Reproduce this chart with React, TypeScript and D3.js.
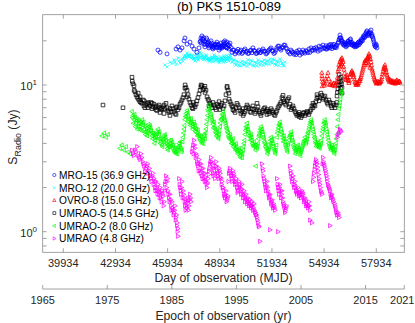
import { useRef, useEffect } from "react";
import * as d3 from "d3";

// MRO-15 (36.9 GHz) [MJD, Jy]
const mro15 = [
  [45380,17.3],[45500,16.7],[45900,16.3],[46420,17.6],[46530,18.2],[46650,17.3],[46760,17.9],[46880,20.0],[46930,20.9],[47050,19.0],
  [47220,19.6],[47340,18.4],[47450,17.6],[47620,16.7],[47740,17.9],[47800,19.6],[47850,20.9],[47910,21.6],[47970,20.3],[48030,19.0],
  [48080,18.2],[48140,19.6],[48200,20.3],[48260,18.7],[48310,17.9],[48370,19.0],[48430,20.0],[48490,18.4],[48540,17.6],[48600,18.7],
  [48660,19.0],[48720,18.2],[48770,19.6],[48830,18.7],[48890,17.3],[48950,18.4],[49000,19.3],[49060,17.9],[49120,18.7],[49180,19.0],
  [49230,20.0],[49290,18.2],[49350,19.6],[49400,18.7],[49460,17.6],[49520,19.3],[49580,18.0],[49640,16.7],[49690,17.3],[49750,17.3],
  [49810,16.3],[49870,16.8],[49920,17.0],[49980,17.5],[50040,16.5],[50100,16.9],[50150,17.3],[50210,16.4],[50270,16.7],[50330,17.2],
  [50380,17.6],[50440,16.8],[50500,17.0],[50550,16.4],[50610,16.5],[50670,17.1],[50730,17.3],[50780,16.6],[50840,17.9],[50900,17.2],
  [50960,17.0],[51010,16.4],[51070,16.5],[51130,16.9],[51190,17.3],[51240,16.6],[51300,16.7],[51360,17.1],[51420,17.6],[51470,17.0],
  [51530,17.0],[51590,16.3],[51650,16.5],[51700,16.9],[51760,17.3],[51820,17.6],[51880,17.9],[51940,17.2],[51990,17.0],[52050,16.4],
  [52110,16.7],[52160,17.3],[52220,17.9],[52280,18.4],[52340,18.4],[52390,17.7],[52450,17.3],[52510,17.9],[52570,18.2],[52620,18.7],
  [52680,18.7],[52740,17.9],[52800,17.6],[52850,16.9],[52910,16.7],[52970,16.3],[53030,17.3],[53080,16.9],[53140,16.7],[53200,16.2],
  [53260,16.5],[53310,16.1],[53370,17.0],[53430,16.6],[53490,17.3],[53545,16.0],[53600,16.7],[53660,16.4],[53720,17.3],[53770,16.8],
  [53830,16.5],[53890,17.1],[53950,17.0],[54000,16.6],[54060,17.6],[54120,16.7],[54180,17.9],[54230,17.2],[54290,17.3],[54350,17.8],
  [54410,17.3],[54460,18.0],[54520,17.6],[54580,17.0],[54640,18.4],[54695,17.3],[54750,18.2],[54810,17.6],[54870,18.7],[54920,17.9],
  [54980,17.9],[55040,18.5],[55100,17.6],[55150,18.2],[55210,18.7],[55270,17.9],[55330,18.4],[55380,17.7],[55440,18.2],[55500,18.9],
  [55560,18.0],[55610,18.5],[55670,18.7],[55730,19.3],[55790,20.3],[55845,21.9],[55900,20.9],[55960,19.9],[56020,19.6],[56075,19.0],
  [56130,18.7],[56190,18.2],[56250,19.3],[56305,19.8],[56360,19.0],[56420,20.3],[56480,19.6],[56535,19.0],[56590,18.6],[56650,18.4],
  [56707,18.2],[56765,18.9],[56820,18.7],[56880,19.3],[56940,18.8],[56995,19.3],[57050,19.9],[57110,20.3],[57170,20.9],[57225,21.3],
  [57280,22.0],[57340,22.6],[57400,23.4],[57455,22.3],[57510,21.9],[57570,23.0],[57630,23.7],[57685,22.2],[57740,20.9],[57800,19.6],
  [57860,18.4],[57915,19.0],[57970,17.9],
  [47830,20.0],[47880,19.3],[47940,20.6],[48000,21.0],[48060,19.8],[48110,18.9],[48170,20.9],[48230,19.2],[48290,19.6],[48340,18.4],
  [48400,18.6],[48460,19.3],[48520,17.9],[48570,18.2],[48630,18.0],[48690,18.7],[48740,19.0],[48800,18.0],[48860,18.9],[48920,18.0],
  [48970,17.8],[49030,18.4],[49090,18.2],[49150,19.6],[49200,18.4],[49260,19.3],[49320,17.9],[49380,18.0],[49430,18.9],[49490,18.5],
  [55040,17.6],[55180,18.0],[55300,18.9],[55410,18.8],[55530,18.2],[55640,18.0],[55760,19.6],[55820,20.8],[55870,21.0],[55930,20.3],
  [55990,19.2],[56050,18.7],[56100,19.4],[56160,19.0],[56220,18.6],[56280,18.7],[56330,20.0],[56390,19.6],[56450,20.6],[56510,18.8],
  [56560,19.4],[56620,19.0],[56680,18.9],[56730,18.6],[56790,18.3],[56850,18.6],[56910,19.6],[56970,19.8],[57020,19.4],[57080,20.6],
  [57140,20.0],[57200,21.6],[57250,21.0],[57310,21.4],[57370,23.0],[57430,21.8],[57480,22.6],[57540,22.4],[57600,22.5],[57660,21.6],
  [57710,21.4],[57770,20.3],[57830,18.9],[57890,18.2],[57940,18.6]
];

// MRO-12 (20.0 GHz)
const mro12 = [
  [45780,13.7],[45900,13.3],[46070,14.3],[46180,14.0],[46300,14.8],[46360,14.3],[46420,13.8],[46530,15.3],[46590,14.6],[46650,14.1],
  [46760,15.0],[46820,14.5],[46880,15.5],[46930,16.0],[47000,15.3],[47050,16.5],[47110,16.0],[47160,15.5],[47220,16.2],[47280,15.3],
  [47340,15.8],[47400,15.0],[47450,15.3],[47510,14.6],[47570,16.3],[47620,15.5],[47680,14.8],[47740,16.1],[47800,16.7],[47850,15.6],
  [47910,15.8],[47970,14.9],[48030,15.0],[48080,15.6],[48140,16.0],[48200,15.1],[48260,15.3],[48310,14.6],[48370,14.5],[48430,15.0],
  [48490,15.5],[48540,14.4],[48600,16.0],[48660,15.2],[48720,14.8],[48770,15.6],[48830,15.3],[48890,14.2],[48950,14.5],[49000,15.3],
  [49060,15.0],[49120,14.3],[49180,15.8],[49230,15.0],[49290,14.8],[49350,15.9],[49410,15.5],[49460,14.6],[49520,16.0],[49580,15.0],
  [49640,14.3],[49690,14.9],[49750,14.8],[49810,14.0],[49870,13.7],[49920,14.6],[49980,14.3],[50040,13.6],[50100,13.5],[50150,14.2],
  [50210,14.5],[50270,13.8],[50330,13.7],[50380,14.4],[50440,14.1],[50500,13.4],[50560,14.8],[50610,14.0],[50670,13.9],[50730,14.7],
  [50790,14.5],[50840,13.6],[50900,13.5],[50960,14.3],[51020,14.1],[51070,13.5],[51130,14.8],[51190,14.2],[51250,13.7],[51300,14.5],
  [51360,14.3],[51420,13.6],[51480,14.8],[51530,14.1],[51590,13.9],[51650,14.6],[51710,14.5],[51760,13.8],[51820,15.0],[51880,14.4],
  [51940,14.1],[51990,15.0],[52050,14.8],[52110,13.9],[52170,13.7],[52220,14.6],[52280,14.3],[52340,13.6],[52400,15.0],[52450,14.5],
  [52510,14.1],[52570,13.6],[52620,13.5],[52680,14.3],
  [46850,15.2],[46960,15.7],[47080,15.9],[47190,15.8],[47310,16.0],[47370,15.5],[47480,15.0],[47540,15.6],[47650,15.2],[47710,15.5],
  [47770,15.4],[47880,16.3],[47940,15.2],[48000,15.5],[48110,15.3],[48170,15.7],[48230,14.8],[48290,14.9],[48340,15.2],[48400,14.8],
  [48460,15.3],[48520,15.0],[48570,15.4],[48630,15.6],[48690,14.6],[48740,15.2],[48800,14.9],[48860,14.6],[48920,14.8],[48970,14.9],
  [49030,15.5],[49090,14.7],[49150,15.1],[49200,15.4],[49260,14.5],[49320,15.3],[49380,15.1],[49430,15.0],[49490,15.4],[49550,15.5]
];

// OVRO-8 (15.0 GHz)
const ovro15 = [
  [54800,12.1],[54815,11.0],[54830,9.8],[54900,10.3],[54980,10.2],[55070,10.6],[55155,12.1],[55200,11.0],[55240,10.0],[55330,10.4],
  [55420,9.9],[55500,10.3],[55590,10.0],[55670,10.6],[55730,12.3],[55785,13.7],[55845,14.3],[55900,15.0],[55900,13.5],[55960,15.3],
  [55960,13.9],[56020,14.3],[56075,12.7],[56130,11.3],[56190,10.8],[56250,11.7],[56305,10.8],[56360,10.3],[56420,11.3],[56480,12.1],
  [56535,12.5],[56590,12.1],[56650,11.3],[56710,10.5],[56765,10.0],[56820,10.3],[56880,10.0],[56940,10.6],[56995,10.6],[57050,11.3],
  [57110,12.1],[57170,12.9],[57225,13.7],[57280,14.5],[57340,14.1],[57400,15.0],[57455,15.5],[57455,13.6],[57510,16.3],[57510,14.0],
  [57570,15.8],[57570,13.1],[57630,14.3],[57685,12.9],[57740,12.1],[57800,11.3],[57860,10.8],[57915,10.5],[57970,10.3],[58030,10.6],
  [58090,10.2],[58145,10.4],[58200,10.6],[58260,11.3],[58320,12.3],[58375,13.3],[58430,13.7],[58430,12.1],[58490,12.7],[58550,11.7],
  [58605,11.1],[58660,10.7],[58720,10.9],[58780,10.4],[58835,10.7],[58890,10.3],[58950,10.6],[59010,10.2],[59065,10.5],[59120,10.8],
  [59180,10.3],[59240,10.6],[59295,10.4],
  [54810,11.5],[54850,10.5],[54940,9.9],[55020,10.9],[55110,11.5],[55280,10.1],[55370,10.0],[55460,10.2],[55550,9.8],[55630,10.3],
  [55700,11.2],[55760,12.8],[55815,13.2],[55875,14.6],[55930,14.0],[55990,14.8],[56050,13.3],[56100,12.0],[56160,11.0],[56220,11.3],
  [56280,11.2],[56330,10.6],[56390,10.7],[56450,11.8],[56510,12.3],[56560,11.8],[56620,11.7],[56680,10.9],[56740,10.3],[56790,10.1],
  [56850,10.2],[56910,10.3],[56970,10.9],[57020,11.0],[57080,11.7],[57140,12.5],[57200,13.3],[57250,14.1],[57310,14.8],[57370,14.6],
  [57430,15.2],[57480,15.8],[57540,15.1],[57600,15.0],[57660,13.6],[57710,12.5],[57770,11.7],[57830,11.0],[57890,10.6],[57940,10.2],
  [58000,10.4],[58060,10.4],[58120,10.3],[58170,10.5],[58230,10.9],[58290,11.8],[58350,12.8],[58400,13.0],[58460,13.1],[58520,12.2],
  [58580,11.4],[58630,10.9],[58690,10.5],[58750,10.7],[58810,10.6],[58860,10.5],[58920,10.4],[58980,10.4],[59040,10.3],[59090,10.7],
  [59150,10.5],[59210,10.4],[59270,10.6]
];

// UMRAO-5 (14.5 GHz)
const umrao14 = [
  [42217,7.3],[43367,7.0],
  [43885,11.3],[43900,10.6],[44000,9.9],[44010,9.2],[44115,8.6],[44230,8.1],[44240,8.8],[44345,7.7],[44350,8.3],[44460,7.5],
  [44575,7.2],[44580,7.8],[44690,7.3],[44805,7.0],[44810,7.6],[44920,7.2],[45035,6.9],[45040,7.5],[45150,7.4],[45265,6.8],
  [45270,7.2],[45380,7.1],[45495,6.5],[45500,7.0],[45610,6.9],[45725,6.4],[45730,7.3],[45840,7.5],[45955,6.7],[46070,6.2],
  [46075,6.9],[46185,7.2],[46300,6.6],[46415,7.0],[46420,6.3],[46530,6.8],[46645,7.4],[46760,7.9],[46875,8.6],[46930,9.5],
  [46940,10.0],[47050,9.2],[47055,8.3],[47160,8.0],[47280,7.3],[47395,6.9],[47400,7.6],[47510,7.1],[47620,7.8],[47740,8.7],
  [47850,9.7],[47860,10.0],[47970,9.3],[48080,9.8],[48085,8.9],[48200,8.3],[48310,7.8],[48315,7.2],[48430,7.3],[48540,7.6],
  [48660,7.0],[48770,7.4],[48890,7.1],[48895,7.7],[49000,7.3],[49120,6.9],[49230,7.8],[49350,9.6],[49355,9.8],[49460,8.8],
  [49465,8.0],[49580,7.4],[49690,6.8],[49695,7.1],[49810,6.5],[49920,7.5],[50040,7.0],[50150,6.4],[50270,6.9],[50275,6.2],
  [50380,6.6],[50500,7.3],[50610,6.9],[50730,6.5],[50840,7.2],[50960,6.4],[51070,6.8],[51075,7.5],[51190,6.6],[51300,6.2],
  [51420,6.7],[51530,7.0],[51650,6.3],[51655,6.8],[51760,6.4],[51880,6.9],[51990,6.5],[52110,6.2],[52220,6.7],[52340,7.2],
  [52450,7.6],[52570,8.5],[52575,8.0],[52680,7.5],[52800,7.8],[52910,8.2],[52915,7.1],[53030,6.8],[53140,7.2],[53260,6.6],
  [53370,6.2],[53490,6.5],[53495,6.1],[53600,6.0],[53720,6.4],[53830,6.2],[53950,6.6],[54060,6.3],[54180,6.8],[54290,7.0],
  [54295,7.5],[54410,7.2],[54520,8.1],[54525,8.6],[54640,7.8],[54750,8.8],[54870,8.0],[54980,8.4],[55100,7.6],[55210,7.9],
  [55330,7.2],[55440,7.5],[55560,7.0],[55670,7.6],[55675,8.4],[55730,9.4],[55790,10.5],[55795,11.8],[55850,10.0],[55855,9.0],
  [55900,11.3],[55905,10.6],[55960,9.6],[55965,8.8],
  [43940,10.2],[44060,9.0],[44170,8.3],[44290,7.9],[44400,7.6],[44520,7.9],[44630,7.0],[44750,7.5],[44860,7.4],[44980,7.6],
  [45090,7.1],[45210,7.0],[45320,6.7],[45440,7.3],[45550,6.8],[45670,7.1],[45780,6.9],[45900,7.0],[46010,6.5],[46130,6.6],
  [46240,6.9],[46360,6.4],[46470,7.1],[46590,7.0],[46700,7.6],[46820,8.2],[46990,9.6],[47110,8.6],[47220,7.6],[47340,7.0],
  [47450,7.3],[47570,7.4],[47680,8.2],[47800,9.2],[47910,9.9],[48030,9.5],[48140,9.2],[48260,8.0],[48370,7.5],[48490,7.0],
  [48600,7.3],[48720,6.8],[48830,7.2],[48950,6.8],[49060,7.5],[49180,7.2],[49290,8.6],[49410,9.2],[49520,7.7],[49640,7.2],
  [49750,6.7],[49870,7.0],[49980,7.3],[50100,6.7],[50210,6.6],[50330,6.4],[50440,7.0],[50550,7.1],[50670,6.6],[50790,6.9],
  [50900,6.8],[51010,6.6],[51130,7.1],[51250,6.4],[51360,6.5],[51470,6.9],[51590,6.6],[51710,6.6],[51820,6.6],[51940,6.7],
  [52050,6.3],[52170,6.5],[52280,7.0],[52400,7.4],[52510,8.2],[52620,7.7],[52740,7.3],[52850,8.0],[52970,7.4],[53080,7.0],
  [53200,6.9],[53310,6.4],[53430,6.3],[53540,6.3],[53660,6.2],[53770,6.5],[53890,6.4],[54000,6.5],[54120,6.6],[54230,7.2],
  [54350,7.3],[54460,7.7],[54580,8.3],[54690,8.2],[54810,8.5],[54920,8.2],[55040,7.9],[55150,7.4],[55270,7.6],[55380,7.0],
  [55500,7.3],[55620,7.3],[55700,8.9],[55760,10.0],[55820,11.0],[55880,9.5],[55930,10.2]
];

// UMRAO-2 (8.0 GHz)
const umrao8 = [
  [42160,4.5],[42280,4.7],[42390,4.4],[42500,4.6],[43190,3.7],[43300,3.9],[43420,3.6],[43540,3.8],[43650,3.5],[43770,3.4],
  [43880,6.6],[43940,6.2],[44000,5.8],[44060,6.0],[44120,5.5],[44170,5.7],[44230,5.2],[44290,5.5],[44350,5.0],[44400,5.4],
  [44460,5.8],[44520,5.3],[44580,5.0],[44630,5.2],[44690,4.8],[44750,4.5],[44800,4.9],[44860,5.2],[44920,5.3],[44980,4.9],
  [45040,4.5],[45090,4.7],[45150,4.4],[45210,4.2],[45260,4.5],[45320,4.8],[45380,5.0],[45440,4.6],[45490,4.3],[45550,4.1],
  [45610,3.9],[45670,4.2],[45720,4.5],[45780,4.6],[45840,4.2],[45900,3.9],[45950,3.6],[46010,3.8],[46070,4.0],[46130,4.2],
  [46180,4.1],[46240,3.8],[46300,3.6],[46360,3.5],[46410,3.4],[46470,3.6],[46530,3.8],[46590,4.0],[46640,3.9],[46700,3.7],
  [46760,3.6],[46820,4.4],[46880,5.0],[46930,5.8],[46990,6.4],[47050,6.7],[47110,6.2],[47160,5.8],[47220,5.5],[47280,5.9],
  [47340,5.4],[47390,5.2],[47450,5.6],[47510,5.3],[47570,5.0],[47620,4.7],[47680,4.9],[47740,4.5],[47800,4.2],[47850,4.4],
  [47910,4.0],[47970,4.3],[48030,4.6],[48080,4.3],[48140,5.0],[48200,5.8],[48260,6.8],[48310,7.3],[48370,6.7],[48430,6.3],
  [48490,5.8],[48540,5.4],[48600,5.6],[48660,5.0],[48720,4.7],[48770,4.9],[48830,4.4],[48890,4.6],[48950,5.2],[49000,5.8],
  [49060,6.3],[49120,6.6],[49180,6.1],[49230,5.7],[49290,5.3],[49350,5.0],[49410,4.7],[49460,4.4],[49520,4.6],[49580,4.2],
  [49630,4.0],[49690,4.3],[49750,3.9],[49810,3.7],[49860,4.0],[49920,3.6],[49980,3.4],[50040,3.7],[50090,3.3],[50150,3.5],
  [50210,3.2],[50270,3.6],[50320,4.0],[50380,4.6],[50440,5.2],[50500,5.5],[50550,5.0],[50610,4.7],[50670,4.4],[50730,4.6],
  [50780,4.2],[50840,3.9],[50900,4.1],[50960,3.8],[51010,2.8],[51070,3.7],[51130,4.0],[51190,4.5],[51240,4.8],[51300,5.2],
  [51360,5.0],[51420,4.6],[51470,4.3],[51530,4.0],[51590,3.9],[51650,3.6],[51700,3.5],[51760,3.7],[51820,4.0],[51880,4.4],
  [51930,4.2],[51990,4.0],[52050,3.7],[52110,3.5],[52160,3.6],[52220,4.4],[52280,4.9],[52340,5.3],[52390,5.6],[52450,5.0],
  [52510,4.7],[52570,4.3],[52620,4.5],[52680,4.1],[52740,3.8],[52800,3.6],[52850,3.9],[52910,4.2],[52970,4.5],[53030,4.8],
  [53080,4.4],[53140,4.1],[53200,3.8],[53260,3.6],[53310,3.5],[53370,3.7],[53430,3.9],[53490,3.6],[53540,3.4],[53600,3.5],
  [53660,3.7],[53720,3.9],[53770,4.1],[53830,4.4],[53890,4.0],[53950,4.3],[54000,4.7],[54060,5.0],[54120,5.4],[54180,5.8],
  [54230,5.5],[54290,5.0],[54350,4.6],[54410,4.3],[54460,4.0],[54520,3.9],[54580,4.1],[54640,3.9],[54690,3.7],[54750,4.0],
  [54810,4.5],[54870,5.0],[54920,5.5],[54980,5.8],[55040,5.3],[55100,4.8],[55150,4.4],[55210,4.0],[55270,3.8],[55330,3.6],
  [55380,3.9],[55440,3.7],[55500,3.5],[55560,3.6],[55610,4.0],[55670,4.6],[55730,5.8],[55790,6.9],[55840,7.6],[55900,8.6],
  [55960,9.2],
  [43910,6.0],[43970,5.5],[44030,6.3],[44090,5.2],[44150,5.9],[44200,5.0],[44260,5.8],[44320,5.2],[44370,5.6],[44430,4.9],
  [44490,5.5],[44550,5.6],[44610,4.8],[44660,4.6],[44720,5.1],[44770,4.7],[44830,5.4],[44890,4.9],[44950,5.1],[45010,4.7],
  [45070,4.3],[45120,4.6],[45180,4.0],[45240,4.4],[45290,4.6],[45350,4.7],[45410,4.3],[45470,4.8],[45520,4.0],[45580,4.3],
  [45640,3.8],[45700,4.3],[45750,4.1],[45810,4.4],[45870,4.0],[45920,3.7],[45980,3.9],[46040,4.2],[46100,3.8],[46150,3.9],
  [46210,3.7],[46270,3.9],[46330,3.5],[46390,3.7],[46440,3.5],[46500,3.4],[46560,3.7],[46620,3.8],[46670,4.1],[46730,3.5],
  [46790,4.1],[46850,4.7],[46900,5.3],[46960,6.1],[47020,6.1],[47080,6.5],[47130,5.6],[47190,5.9],[47250,5.3],[47310,5.6],
  [47370,5.0],[47420,5.4],[47480,5.1],[47540,4.8],[47600,5.0],[47650,4.5],[47710,4.6],[47770,4.3],[47830,4.5],[47880,4.1],
  [47940,4.2],[48000,4.0],[48060,4.5],[48110,4.7],[48170,5.4],[48230,6.2],[48290,6.6],[48340,6.9],[48400,6.1],[48460,6.0],
  [48520,5.6],[48570,5.1],[48630,5.2],[48690,4.8],[48740,4.5],[48800,4.6],[48860,4.3],[48920,4.9],[48970,5.5],[49030,5.9],
  [49090,6.0],[49150,6.3],[49200,5.8],[49260,5.5],[49320,5.1],[49380,4.8],[49430,4.5],[49490,4.3],[49550,4.4],[49600,4.0],
  [49660,4.1],[49720,3.8],[49780,3.9],[49840,3.6],[49890,3.8],[49950,3.5],[50010,3.6],[50070,3.5],[50120,3.2],[50180,3.4],
  [50240,3.4],[50300,3.8],[50350,4.2],[50410,4.9],[50470,5.0],[50520,5.2],[50580,4.8],[50640,4.5],[50700,4.2],[50750,4.4],
  [50810,4.0],[50870,3.8],[50930,3.9],[50990,3.6],[51040,3.9],[51100,3.8],[51160,4.3],[51210,4.6],[51270,5.0],[51330,4.8],
  [51390,4.8],[51440,4.4],[51500,4.1],[51560,3.8],[51620,3.7],[51670,3.4],[51730,3.6],[51790,3.8],[51850,4.2],[51900,4.0],
  [51960,4.3],[52020,3.8],[52080,3.6],[52130,3.4],[52190,3.9],[52250,4.7],[52310,5.1],[52360,5.4],[52420,5.3],[52480,4.8],
  [52540,4.5],[52590,4.1],[52650,4.3],[52710,3.9],[52770,3.7],[52820,3.5],[52880,4.0],[52940,4.4],[53000,4.6],[53050,4.6],
  [53110,4.2],[53170,3.9],[53230,3.7],[53280,3.4],[53340,3.6],[53400,3.8],[53460,3.7],[53510,3.5],[53570,3.3],[53630,3.6],
  [53690,3.8],[53740,4.0],[53800,4.2],[53860,4.2],[53920,4.1],[53970,4.5],[54030,4.8],[54090,5.2],[54150,5.6],[54200,5.6],
  [54260,5.2],[54320,4.8],[54380,4.4],[54430,4.1],[54490,3.8],[54550,4.0],[54610,3.8],[54660,3.8],[54720,3.9],[54780,4.2],
  [54840,4.8],[54890,5.2],[54950,5.6],[55010,5.5],[55070,5.0],[55120,4.6],[55180,4.2],[55240,3.9],[55300,3.7],[55350,3.7],
  [55410,3.8],[55470,3.6],[55530,3.4],[55590,3.8],[55640,4.3],[55700,5.2],[55760,6.3],[55820,7.2],[55870,8.0],[55930,9.0]
];

// UMRAO (4.8 GHz)
const umrao5 = [
  [43880,3.6],[44000,3.3],[44120,3.5],[44180,3.8],[44290,3.2],[44400,3.4],[44500,3.0],[44580,2.8],[44690,2.7],[44780,2.9],
  [44850,2.6],[44920,2.4],[45000,2.2],[45090,2.5],[45150,2.3],[45210,2.0],[45260,2.2],[45320,1.9],[45380,2.1],[45440,1.8],
  [45500,2.0],[45550,1.7],[45610,1.9],[45670,1.75],[45730,1.6],[45780,2.1],[45840,2.4],[45900,2.2],[45950,1.9],[46010,1.7],
  [46070,1.8],[46130,1.5],[46180,1.6],[46240,1.4],[46300,1.35],[46360,1.5],[46410,1.25],[46470,1.1],[46500,1.0],[46530,0.93],
  [46590,2.3],[46650,2.0],[46700,1.8],[46760,2.2],[46820,1.9],[46880,1.7],[46930,1.5],[46990,1.6],[47050,1.45],[47110,1.7],
  [47160,1.5],[47220,1.8],[47280,1.6],[47340,3.5],[47400,3.9],[47450,4.2],[47510,3.7],[47570,3.4],[47620,3.0],[47680,2.8],
  [47740,3.1],[47800,2.6],[47850,2.9],[47910,2.4],[47970,2.7],[48030,2.3],[48080,2.5],[48140,2.2],[48200,2.0],[48260,2.3],
  [48310,2.6],[48370,2.9],[48430,3.2],[48490,2.9],[48540,2.5],[48600,2.7],[48660,2.3],[48720,3.0],[48770,2.6],[48830,2.4],
  [48890,2.7],[48950,2.5],[49000,2.3],[49060,2.2],[49120,2.0],[49180,1.8],[49230,1.7],[49290,1.9],[49350,1.65],[49400,1.75],
  [49460,2.5],[49520,2.7],[49580,2.4],[49640,2.2],[49690,2.6],[49750,2.4],[49810,2.1],[49870,2.3],[49920,2.0],[49980,1.9],
  [50040,2.2],[50100,2.0],[50150,1.8],[50210,2.1],[50270,1.7],[50330,1.9],[50380,1.6],[50440,1.8],[50500,1.55],[50550,1.7],
  [50610,1.5],[50670,1.65],[50730,1.45],[50780,1.6],[50840,1.4],[50900,1.55],[50960,1.35],[51010,1.3],[51070,1.25],[51130,1.15],
  [51190,1.08],[51245,0.86],[51360,2.9],[51420,2.6],[51470,2.3],[51530,2.1],[51590,1.9],[51650,2.2],[51700,1.9],[51760,1.7],
  [51820,1.8],[51820,1.03],[51880,1.55],[51940,1.65],[51990,1.45],[52050,1.5],[52110,1.4],[52220,2.3],[52280,2.0],[52280,1.0],
  [52340,1.8],[52390,2.1],[52450,1.7],[52510,1.9],[52570,1.6],[52620,1.5],[52680,1.35],[52740,1.45],[52970,2.8],[53030,2.5],
  [53080,2.2],[53140,2.4],[53200,2.0],[53260,2.2],[53310,1.9],[53370,1.8],[53430,2.0],[53490,1.75],[53540,1.85],[53600,1.7],
  [53660,1.9],[53720,1.8],[53770,1.6],[53830,1.7],[53890,1.5],[53950,1.55],[54000,1.45],[54060,1.6],[54120,1.4],[54120,1.2],
  [54230,1.15],[54290,2.2],[54350,2.5],[54410,2.8],[54460,3.1],[54520,2.9],[54580,2.6],[54640,2.3],[54690,2.1],[54750,1.9],
  [54810,1.8],[54870,3.2],[54920,2.9],[54980,2.7],[55040,2.5],[55100,2.3],[55150,2.1],[55210,2.0],[55270,1.9],[55270,1.1],
  [55330,1.7],[55380,1.8],[55440,1.65],[55560,1.5],[55610,1.4],[55670,1.3],[55730,1.35],[55790,1.25],[55700,4.4],[55780,4.7],
  [55840,5.0],[55900,4.8],
  [43940,3.4],[44060,3.6],[44240,3.3],[44350,3.1],[44450,3.2],[44540,2.9],[44630,2.6],[44740,2.8],[44810,2.5],[44880,2.7],
  [44960,2.3],[45050,2.4],[45120,2.1],[45180,2.2],[45230,1.9],[45290,2.0],[45350,1.8],[45410,1.9],[45470,1.7],[45520,1.85],
  [45580,1.6],[45640,1.8],[45700,1.5],[45760,1.9],[45810,2.2],[45870,2.0],[45920,2.3],[45980,1.8],[46040,1.6],[46100,1.65],
  [46150,1.4],[46210,1.45],[46270,1.3],[46330,1.4],[46390,1.2],[46440,1.3],[46480,1.15],[46520,1.05],[46620,2.1],[46680,1.9],
  [46730,2.0],[46790,1.7],[46850,1.8],[46910,1.6],[46960,1.4],[47020,1.5],[47080,1.6],[47130,1.4],[47190,1.65],[47250,1.7],
  [47370,3.7],[47420,3.4],[47480,3.9],[47540,3.2],[47600,3.3],[47650,2.9],[47710,2.6],[47770,2.9],[47830,2.5],[47880,2.7],
  [47940,2.3],[48000,2.5],[48060,2.2],[48110,2.35],[48170,2.1],[48230,2.15],[48290,2.45],[48340,2.7],[48400,3.0],[48460,3.0],
  [48520,2.7],[48570,2.4],[48630,2.5],[48690,2.8],[48740,2.8],[48800,2.5],[48860,2.3],[48920,2.6],[48970,2.35],[49030,2.1],
  [49090,2.0],[49150,1.9],[49200,1.75],[49260,1.8],[49320,1.6],[49380,1.7],[49430,2.2],[49490,2.6],[49550,2.5],[49610,2.3],
  [49660,2.4],[49720,2.5],[49780,2.2],[49840,2.2],[49890,2.1],[49950,1.85],[50010,2.0],[50070,2.1],[50120,1.9],[50180,1.95],
  [50240,1.8],[50300,1.8],[50350,1.7],[50410,1.7],[50470,1.65],[50520,1.6],[50580,1.6],[50640,1.55],[50700,1.5],[50750,1.5],
  [50810,1.5],[50870,1.45],[50930,1.4],[50990,1.35],[51040,1.3],[51100,1.2],[51160,1.1],[51390,2.7],[51440,2.4],[51500,2.2],
  [51560,2.0],[51620,2.05],[51670,2.0],[51730,1.8],[51790,1.75],[51850,1.65],[51910,1.6],[51960,1.5],[52020,1.55],[52080,1.45],
  [52250,2.1],[52310,1.9],[52360,2.0],[52420,1.9],[52480,1.8],[52540,1.7],[52590,1.55],[52650,1.45],[52710,1.4],[52770,1.5],
  [53000,2.6],[53050,2.35],[53110,2.3],[53170,2.1],[53230,2.1],[53280,2.0],[53340,1.85],[53400,1.9],[53460,1.85],[53510,1.8],
  [53570,1.75],[53630,1.8],[53690,1.85],[53740,1.7],[53800,1.65],[53860,1.6],[53920,1.55],[53970,1.5],[54030,1.5],[54090,1.5],
  [54320,2.35],[54380,2.65],[54430,2.95],[54490,3.0],[54550,2.75],[54610,2.45],[54660,2.2],[54720,2.0],[54780,1.85],[54840,2.9],
  [54890,3.0],[54950,2.8],[55010,2.6],[55070,2.4],[55120,2.2],[55180,2.05],[55240,1.95],[55300,1.8],[55350,1.75],[55410,1.7],
  [55470,1.6],[55530,1.55],[55590,1.45],[55640,1.35],[55760,1.3],[55740,4.6],[55870,4.9]
];

const mjdTicks = [39934, 42934, 45934, 48934, 51934, 54934, 57934];
const yearTicks = [1965, 1975, 1985, 1995, 2005, 2015, 2021];
const fluxMajor = [1, 10];
const fluxMinor = [0.8, 0.9, 2, 3, 4, 5, 6, 7, 8, 9, 20];

const series = [
  { name: "UMRAO-5 (14.5 GHz)", data: umrao14, color: "#000000", marker: "square" },
  { name: "UMRAO-2 (8.0 GHz)", data: umrao8, color: "#00ff00", marker: "left" },
  { name: "UMRAO (4.8 GHz)", data: umrao5, color: "#ff00ff", marker: "right" },
  { name: "OVRO-8 (15.0 GHz)", data: ovro15, color: "#ff0000", marker: "up" },
  { name: "MRO-12 (20.0 GHz)", data: mro12, color: "#00ffff", marker: "cross" },
  { name: "MRO-15 (36.9 GHz)", data: mro15, color: "#0000ff", marker: "circle" },
];
const legendOrder = [
  "MRO-15 (36.9 GHz)", "MRO-12 (20.0 GHz)", "OVRO-8 (15.0 GHz)",
  "UMRAO-5 (14.5 GHz)", "UMRAO-2 (8.0 GHz)", "UMRAO (4.8 GHz)",
];

const markers = {
  circle: "M2,0A2,2 0 1,1 -2,0A2,2 0 1,1 2,0Z",
  cross: "M-1.6,-1.6L1.6,1.6M-1.6,1.6L1.6,-1.6",
  up: "M0,-2.3L2.1,1.4L-2.1,1.4Z",
  square: "M-1.8,-1.8h3.6v3.6h-3.6Z",
  left: "M-2.3,0L1.4,-2.1L1.4,2.1Z",
  right: "M2.3,0L-1.4,-2.1L-1.4,2.1Z",
};

const FONT = "'Liberation Sans', Arial, sans-serif";

export default function App() {
  const svgRef = useRef(null);

  useEffect(() => {
    const width = 415;
    const height = 323;
    const left = 42.7, right = 404.3, top = 14.7, bottom = 252.3;
    const axisColor = "#8a8a8a";
    const textColor = "#262626";

    const svg = d3.select(svgRef.current);
    svg.selectAll("*").remove();
    svg.attr("width", width).attr("height", height);

    const x = d3.scaleLinear().domain([38750, 59545]).range([left, right]);
    const y = d3.scaleLog().domain([0.7237, 30.15]).range([bottom, top]);
    const yr = d3.scaleLinear().domain([1965, 2021]).range([left, right]);

    svg.append("rect").attr("width", width).attr("height", height).attr("fill", "#fff");

    // data
    const plot = svg.append("g");
    series.forEach(s => {
      plot.append("g")
        .selectAll("path")
        .data(s.data)
        .enter()
        .append("path")
        .attr("d", markers[s.marker])
        .attr("transform", d => `translate(${x(d[0])},${y(d[1])})`)
        .attr("fill", "none")
        .attr("stroke", s.color)
        .attr("stroke-width", 0.75);
    });

    // box
    svg.append("rect")
      .attr("x", left).attr("y", top)
      .attr("width", right - left).attr("height", bottom - top)
      .attr("fill", "none").attr("stroke", axisColor).attr("stroke-width", 0.8);

    const ticks = svg.append("g").attr("stroke", axisColor).attr("stroke-width", 0.8);
    mjdTicks.forEach(t => {
      ticks.append("line").attr("x1", x(t)).attr("x2", x(t)).attr("y1", bottom).attr("y2", bottom - 4);
      ticks.append("line").attr("x1", x(t)).attr("x2", x(t)).attr("y1", top).attr("y2", top + 4);
    });
    [...fluxMajor, ...fluxMinor].forEach(t => {
      ticks.append("line").attr("x1", left).attr("x2", left + 4).attr("y1", y(t)).attr("y2", y(t));
      ticks.append("line").attr("x1", right).attr("x2", right - 4).attr("y1", y(t)).attr("y2", y(t));
    });

    // x tick labels
    svg.append("g")
      .selectAll("text")
      .data(mjdTicks)
      .enter()
      .append("text")
      .attr("x", d => x(d))
      .attr("y", 267)
      .attr("text-anchor", "middle")
      .style("font-family", FONT)
      .style("font-size", "11px")
      .style("fill", textColor)
      .text(d => d);

    // y tick labels
    fluxMajor.forEach(t => {
      const lab = svg.append("text")
        .attr("x", 37)
        .attr("y", y(t) + 5)
        .attr("text-anchor", "end")
        .style("font-family", FONT)
        .style("font-size", "11px")
        .style("fill", textColor);
      lab.append("tspan").text("10");
      lab.append("tspan")
        .attr("dy", -5)
        .style("font-size", "8px")
        .text(Math.round(Math.log10(t)));
    });

    svg.append("text")
      .attr("x", (left + right) / 2)
      .attr("y", 282)
      .attr("text-anchor", "middle")
      .style("font-family", FONT)
      .style("font-size", "12.2px")
      .style("fill", textColor)
      .text("Day of observation (MJD)");

    const yl = svg.append("text")
      .attr("transform", `translate(17,137) rotate(-90)`)
      .attr("text-anchor", "middle")
      .style("font-family", FONT)
      .style("font-size", "12.2px")
      .style("fill", textColor);
    yl.append("tspan").text("S");
    yl.append("tspan").attr("dy", 3.5).style("font-size", "9px").text("Radio");
    yl.append("tspan").attr("dy", -3.5).text(" (Jy)");

    svg.append("text")
      .attr("x", 229)
      .attr("y", 11)
      .attr("text-anchor", "middle")
      .style("font-family", FONT)
      .style("font-size", "13px")
      .style("fill", "#000")
      .text("(b) PKS 1510-089");

    // epoch axis
    const ea = svg.append("g");
    ea.append("line")
      .attr("x1", left).attr("x2", right).attr("y1", 289).attr("y2", 289)
      .attr("stroke", axisColor).attr("stroke-width", 0.8);
    yearTicks.forEach(t => {
      const last = t === yearTicks[yearTicks.length - 1];
      ea.append("line")
        .attr("x1", yr(t)).attr("x2", yr(t)).attr("y1", 289).attr("y2", 285)
        .attr("stroke", axisColor).attr("stroke-width", 0.8);
      ea.append("text")
        .attr("x", last ? width - 0.5 : yr(t))
        .attr("y", 303.5)
        .attr("text-anchor", last ? "end" : "middle")
        .style("font-family", FONT)
        .style("font-size", "11px")
        .style("fill", textColor)
        .text(t);
    });
    ea.append("text")
      .attr("x", (left + right) / 2)
      .attr("y", 319.5)
      .attr("text-anchor", "middle")
      .style("font-family", FONT)
      .style("font-size", "12.2px")
      .style("fill", textColor)
      .text("Epoch of observation (yr)");

    // legend
    const legend = svg.append("g");
    legendOrder.forEach((name, i) => {
      const s = series.find(d => d.name === name);
      const row = legend.append("g").attr("transform", `translate(54.3, ${175 + i * 12.7})`);
      row.append("path")
        .attr("d", markers[s.marker])
        .attr("transform", "scale(0.8)")
        .attr("fill", "none")
        .attr("stroke", s.color)
        .attr("stroke-width", 0.8);
      row.append("text")
        .attr("x", 4.8)
        .attr("y", 3.8)
        .style("font-family", FONT)
        .style("font-size", "10.2px")
        .style("fill", "#000")
        .text(name);
    });
  }, []);

  return <svg ref={svgRef} style={{ position: "absolute", left: 0, top: 0 }}></svg>;
}
